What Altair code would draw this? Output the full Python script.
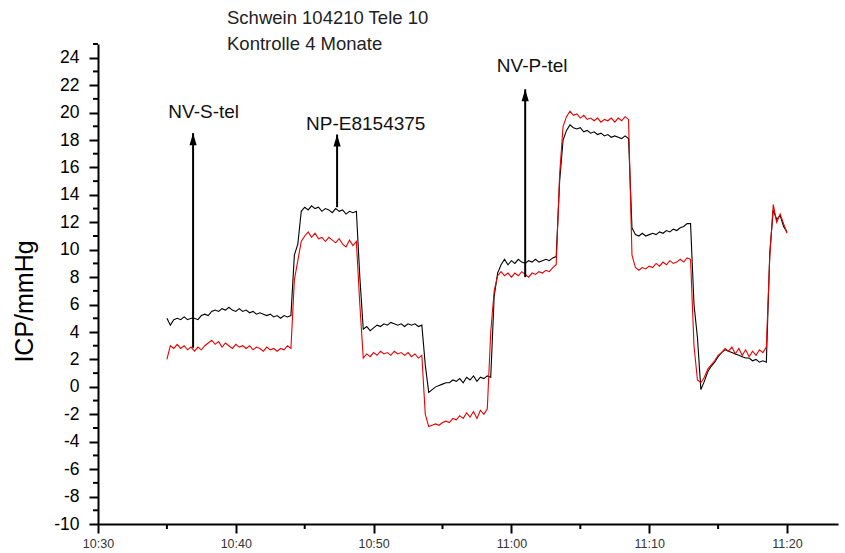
import altair as alt
import pandas as pd

FONT = "Liberation Sans"

# Recording clock: first sample at 10:35, one sample every 15 s (minutes after 10:30)
START_MINUTE = 5.0
STEP_MINUTES = 0.25

# ICP of the reference probe (black trace), mmHg
BLACK = [
    5.0, 4.5, 4.9, 5.0, 4.9, 5.1, 4.9, 5.0, 5.0, 4.9,
    5.2, 5.3, 5.2, 5.5, 5.6, 5.5, 5.7, 5.6, 5.8, 5.6,
    5.5, 5.7, 5.5, 5.6, 5.4, 5.5, 5.3, 5.4, 5.3, 5.2,
    5.3, 5.1, 5.2, 5.0, 5.2, 5.1, 5.2,
    9.6, 10.4, 12.8, 13.1, 12.9, 13.2, 13.0, 13.1, 12.8, 13.0,
    12.9, 12.7, 13.0, 12.8, 12.9, 12.6, 12.8, 12.7, 12.8,
    8.0, 4.2, 4.4, 4.1, 4.3, 4.5, 4.4, 4.6, 4.5, 4.7,
    4.6, 4.5, 4.6, 4.4, 4.6, 4.5, 4.6, 4.4, 4.5,
    1.6, -0.4, -0.2, 0.0, 0.1, 0.2, 0.3, 0.3, 0.5, 0.4,
    0.6, 0.3, 0.7, 0.5, 0.8, 0.4, 0.7, 0.6, 0.8, 0.7,
    6.6, 8.3, 8.9, 9.3, 8.9, 9.2, 9.0, 9.3, 9.1, 9.0,
    9.2, 9.1, 9.3, 9.1, 9.2, 9.3, 9.2, 9.4, 9.5,
    15.0, 18.0, 18.7, 19.1, 18.9, 18.8, 18.9, 18.6, 18.7, 18.5,
    18.6, 18.4, 18.5, 18.3, 18.4, 18.2, 18.3, 18.2, 18.1, 18.3, 18.1,
    11.6, 11.1, 11.0, 11.2, 11.0, 11.1, 11.2, 11.1, 11.3, 11.2,
    11.4, 11.3, 11.5, 11.4, 11.6, 11.7, 11.9, 11.9,
    6.0, 3.6, -0.2, 0.4, 1.1, 1.5, 1.8, 2.2, 2.5, 2.7,
    2.6, 2.5, 2.4, 2.3, 2.2, 2.1, 2.1, 1.9, 2.0, 1.8, 1.9, 1.8,
    9.8, 12.9, 12.2, 12.5, 11.7, 11.3,
]

# ICP of the telemetric probe (red trace), mmHg
RED = [
    2.0, 3.0, 2.8, 3.1, 2.8, 3.0, 2.7, 2.9, 2.6, 2.9,
    2.7, 3.0, 3.2, 3.4, 3.1, 3.3, 2.9, 3.2, 3.0, 2.8,
    3.1, 2.9, 3.0, 2.8, 3.0, 2.7, 2.9, 2.8, 2.6, 2.9,
    2.7, 2.8, 2.6, 2.8, 2.7, 3.0, 2.8,
    7.8, 9.2, 10.6, 11.0, 11.3, 10.9, 11.2, 10.8, 10.9, 10.6,
    10.9, 10.7, 10.5, 10.8, 10.4, 10.2, 10.7, 10.3, 10.6,
    6.0, 2.1, 2.4, 2.2, 2.5, 2.3, 2.6, 2.4, 2.5, 2.3,
    2.6, 2.4, 2.5, 2.3, 2.5, 2.2, 2.4, 2.1, 2.3,
    -2.0, -2.9, -2.8, -2.7, -2.8, -2.6, -2.5, -2.6, -2.3, -2.4,
    -2.1, -2.3, -1.9, -2.2, -1.8, -2.3, -1.7, -2.0, -1.6, 4.0,
    7.0, 8.1, 8.4, 8.1, 8.3, 8.0, 8.3, 8.1, 8.4, 8.2,
    8.0, 8.3, 8.2, 8.4, 8.3, 8.5, 8.4, 8.7, 8.9,
    15.5, 19.0, 19.7, 20.1, 19.8, 19.9, 19.6, 19.8, 19.5, 19.6,
    19.4, 19.6, 19.3, 19.5, 19.4, 19.6, 19.3, 19.6, 19.4, 19.7, 19.5,
    9.6, 8.7, 8.5, 8.7, 8.6, 8.8, 8.7, 9.0, 8.8, 9.1,
    8.9, 9.2, 9.0, 9.1, 9.3, 9.1, 9.4, 9.3,
    3.0, 0.5, 0.3, 0.7, 1.3, 1.6, 1.9, 2.3, 2.5, 2.8,
    2.6, 2.9, 2.4, 2.8, 2.3, 2.7, 2.2, 2.6, 2.3, 2.7, 2.5, 2.9,
    9.5, 13.3, 12.0, 12.6, 11.9, 11.2,
]

# Axis ticks
TICK_MINUTES = [0, 10, 20, 30, 40, 50]
TICK_LABELS = ["10:30", "10:40", "10:50", "11:00", "11:10", "11:20"]
MINOR_X = [5, 15, 25, 35, 45]
Y_TICKS = list(range(-10, 25, 2))
MINOR_Y = list(range(-9, 26, 2))

# Event markers: time of event, arrow foot, arrow tip, label
EVENT_LABELS = ["NV-S-tel", "NP-E8154375", "NV-P-tel"]
EVENT_MINUTES = [6.9, 17.35, 31.0]
ARROW_FROM = [2.85, 13.1, 8.0]
ARROW_TO = [18.5, 18.4, 21.7]
LABEL_MINUTES = [7.67, 19.43, 31.51]
LABEL_VALUES = [20.05, 19.18, 23.4]

HEADER = ["Schwein 104210 Tele 10", "Kontrolle 4 Monate"]

minutes = [START_MINUTE + STEP_MINUTES * i for i in range(len(BLACK))]
black_df = pd.DataFrame({"minute": minutes, "value": BLACK})
red_df = pd.DataFrame({"minute": minutes, "value": RED})
events_df = pd.DataFrame({
    "minute": EVENT_MINUTES, "value": ARROW_FROM, "value2": ARROW_TO,
})
labels_df = pd.DataFrame({
    "minute": LABEL_MINUTES, "value": LABEL_VALUES, "label": EVENT_LABELS,
})
minor_x_df = pd.DataFrame({"minute": MINOR_X})
minor_y_df = pd.DataFrame({"value": MINOR_Y})

x_scale = alt.Scale(domain=[0, 53.7], nice=False, zero=False)
y_scale = alt.Scale(domain=[-10, 25], nice=False, zero=False)

x_axis = alt.Axis(
    title=None, values=TICK_MINUTES,
    labelExpr=f"{TICK_LABELS}[indexof({TICK_MINUTES}, datum.value)]",
    grid=False, domainColor="black", domainWidth=2,
    tickColor="black", tickWidth=2, tickSize=9,
    labelFont=FONT, labelFontSize=12.5, labelColor="#333333",
    labelPadding=4, labelFlush=False,
)
y_axis = alt.Axis(
    title="ICP/mmHg", values=Y_TICKS,
    # plain hyphen for negative numbers
    labelExpr="'' + datum.value",
    grid=False, domainColor="black", domainWidth=2,
    tickColor="black", tickWidth=2, tickSize=9,
    labelFont=FONT, labelFontSize=17.5, labelColor="black", labelPadding=10,
    titleFont=FONT, titleFontSize=25, titleFontWeight="normal",
    titleColor="black", titleAlign="center", titleBaseline="middle",
    titleAngle=270, titleX=-74, titleY=257,
)


def xenc():
    return alt.X("minute:Q", scale=x_scale, axis=x_axis)


def yenc():
    return alt.Y("value:Q", scale=y_scale, axis=y_axis)


black_line = alt.Chart(black_df).mark_line(
    color="black", strokeWidth=1.1
).encode(x=xenc(), y=yenc())

red_line = alt.Chart(red_df).mark_line(
    color="#e80000", strokeWidth=1.1
).encode(x=xenc(), y=yenc())

arrow_shafts = alt.Chart(events_df).mark_rule(
    color="black", strokeWidth=2
).encode(x=xenc(), y=yenc(), y2="value2:Q")

arrow_heads = alt.Chart(events_df).mark_point(
    shape="M0,0L-1.2,4L1.2,4Z", size=36, filled=True,
    color="black", opacity=1, strokeWidth=0,
).encode(x=xenc(), y=alt.Y("value2:Q", scale=y_scale, axis=y_axis))

event_text = alt.Chart(labels_df).mark_text(
    font=FONT, fontSize=19, color="#111111", align="center", baseline="middle"
).encode(x=xenc(), y=yenc(), text="label:N")

minor_x_ticks = alt.Chart(minor_x_df).mark_rule(
    color="black", strokeWidth=2
).encode(x=xenc(), y=alt.value(480), y2=alt.value(485))

minor_y_ticks = alt.Chart(minor_y_df).mark_rule(
    color="black", strokeWidth=2
).encode(y=yenc(), x=alt.value(-5), x2=alt.value(0))

chart = alt.layer(
    black_line, red_line, arrow_shafts, arrow_heads, event_text,
    minor_x_ticks, minor_y_ticks,
).properties(
    width=740, height=480,
    autosize=alt.AutoSizeParams(type="none"),
    padding={"left": 98, "top": 44, "right": 7, "bottom": 29},
    background="white",
    title=alt.TitleParams(
        text=HEADER, anchor="start", frame="group", orient="top",
        dx=129, offset=-10, font=FONT, fontSize=18.5, fontWeight="normal",
        color="#222222", lineHeight=26,
    ),
).configure_view(stroke=None)

chart.save("out.html", embed_options={"renderer": "svg", "actions": False})
